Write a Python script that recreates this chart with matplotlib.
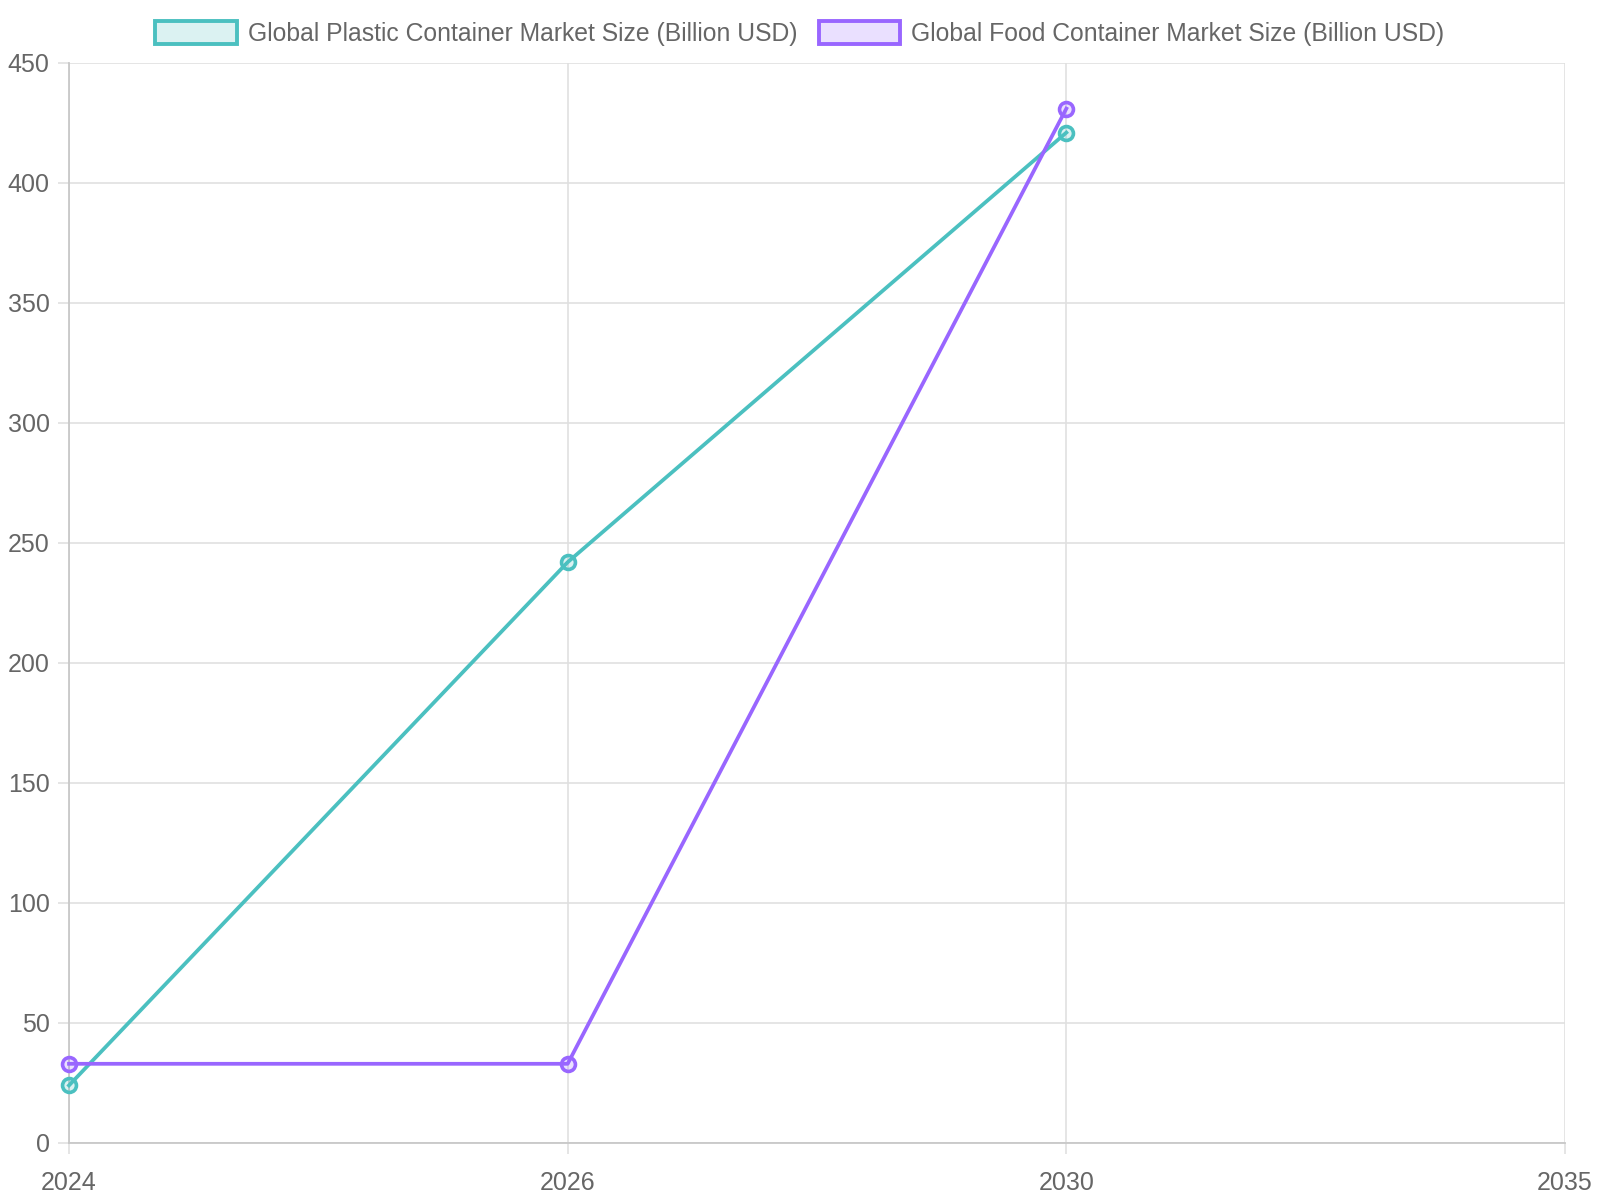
import matplotlib.pyplot as plt
from matplotlib.patches import Patch

plt.rcParams['font.family'] = ['Liberation Sans', 'DejaVu Sans']

# data
years = ['2024', '2026', '2030', '2035']
plastic = [24, 242, 421, None]
food = [33, 33, 431, None]

teal = '#4BC0C0'
purple = '#9966FF'
txt = '#666666'

fig = plt.figure(figsize=(16, 12), dpi=100)
ax = fig.add_axes([69 / 1600, 1 - 1143 / 1200, (1565 - 69) / 1600, (1143 - 63) / 1200])

x = list(range(len(years)))


def draw(vals, color, fill, label):
    xs = [i for i, v in zip(x, vals) if v is not None]
    ys = [v for v in vals if v is not None]
    ax.plot(xs, ys, color=color, lw=2.7, marker='o', ms=10, mew=2.6,
            mfc=fill, mec=color, zorder=3, clip_on=False, label=label)


draw(plastic, teal, (75/255, 192/255, 192/255, 0.2), 'plastic')
draw(food, purple, (153/255, 102/255, 255/255, 0.2), 'food')

ax.set_xlim(0, 3)
ax.set_ylim(0, 450)
ax.set_xticks(x)
ax.set_xticklabels(years)
ax.set_yticks(range(0, 451, 50))

ax.grid(True, color='#e0e0e0', lw=1.2, zorder=0)
ax.set_axisbelow(True)
for s in ['top', 'right']:
    ax.spines[s].set_visible(False)
for s in ['left', 'bottom']:
    ax.spines[s].set_color('#c8c8c8')
    ax.spines[s].set_linewidth(1.3)
ax.tick_params(colors='#e0e0e0', labelcolor=txt, labelsize=18, length=8, width=1.2)
ax.tick_params(axis='y', pad=6)
ax.tick_params(axis='x', pad=12)

handles = [
    Patch(facecolor=(75/255, 192/255, 192/255, 0.2), edgecolor=teal, lw=2.8,
          label='Global Plastic Container Market Size (Billion USD)'),
    Patch(facecolor=(153/255, 102/255, 255/255, 0.2), edgecolor=purple, lw=2.8,
          label='Global Food Container Market Size (Billion USD)'),
]
leg = fig.legend(handles=handles, loc='center', bbox_to_anchor=(0.5, 1 - 33.5 / 1200),
                 ncol=2, frameon=False, fontsize=17.8, handlelength=3.3,
                 handleheight=1.05, handletextpad=0.45, columnspacing=0.85,
                 labelcolor=txt)

fig.savefig('out.png', dpi=100, facecolor='white')
